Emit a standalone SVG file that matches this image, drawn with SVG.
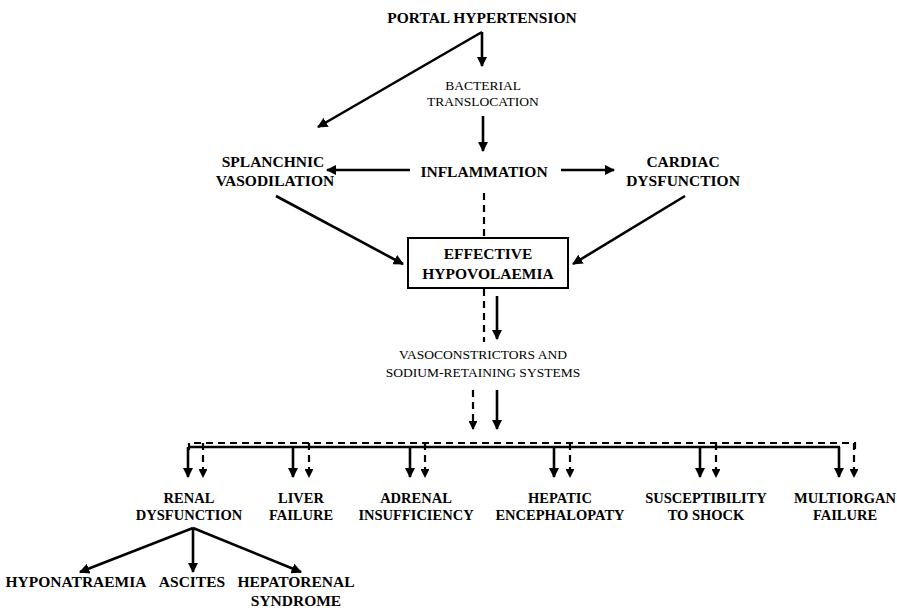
<svg xmlns="http://www.w3.org/2000/svg" width="897" height="611" viewBox="0 0 897 611">
<defs>
<marker id="ah" viewBox="0 0 10 10" refX="9" refY="5" markerWidth="4" markerHeight="4" markerUnits="strokeWidth" orient="auto">
<path d="M0,0 L10,5 L0,10 Z" fill="#000"/>
</marker>
<style>
.t{font-family:"Liberation Serif","DejaVu Serif",serif;fill:#000;text-anchor:middle}
.b{font-weight:bold;font-size:15.5px}
.m{font-weight:bold;font-size:14.5px}
.r{font-size:13.5px}
.s{stroke:#000;stroke-width:2.6;fill:none}
.d{stroke:#000;stroke-width:2.2;fill:none;stroke-dasharray:7,5}
.a{marker-end:url(#ah)}
</style>
</defs>
<rect width="897" height="611" fill="#fff"/>
<g id="connectors">
<path class="s a" d="M482,32 L482,66"/>
<path class="s a" d="M482,32 L318,127"/>
<path class="s a" d="M483,116 L483,151"/>
<path class="s a" d="M410,170 L327,170"/>
<path class="s a" d="M561,170 L614,170"/>
<path class="d" d="M484,193 L484,238"/>
<path class="s a" d="M276,196 L403,264"/>
<path class="s a" d="M685,196 L573,264"/>
<path class="d" d="M484,289 L484,342"/>
<path class="s a" d="M497,296 L497,339"/>
<path class="d a" d="M473,390 L473,429"/>
<path class="s a" d="M497,390 L497,429"/>
<path class="d" d="M189,450 L189,443 L855,443 L855,450"/>
<path class="s" d="M188,447 L840,447"/>
<path class="s a" d="M188,447 L188,477"/>
<path class="s a" d="M293,447 L293,477"/>
<path class="s a" d="M410,447 L410,477"/>
<path class="s a" d="M554,447 L554,477"/>
<path class="s a" d="M700,447 L700,477"/>
<path class="s a" d="M839,447 L839,477"/>
<path class="d a" d="M203,443 L203,477"/>
<path class="d a" d="M309,443 L309,477"/>
<path class="d a" d="M425,443 L425,477"/>
<path class="d a" d="M570,443 L570,477"/>
<path class="d a" d="M716,443 L716,477"/>
<path class="d a" d="M854,443 L854,477"/>
<path class="s a" d="M193,528 L80,572"/>
<path class="s a" d="M193,528 L193,572"/>
<path class="s a" d="M193,528 L301,572"/>
</g>
<g id="portal"><text class="t b" x="482" y="23">PORTAL HYPERTENSION</text></g>
<g id="bacterial"><text class="t r" x="483" y="90">BACTERIAL</text><text class="t r" x="483" y="106">TRANSLOCATION</text></g>
<g id="inflammation"><text class="t b" x="484" y="177">INFLAMMATION</text></g>
<g id="splanchnic"><text class="t b" x="273" y="167">SPLANCHNIC</text><text class="t b" x="275" y="186">VASODILATION</text></g>
<g id="cardiac"><text class="t b" x="683" y="167">CARDIAC</text><text class="t b" x="683" y="186">DYSFUNCTION</text></g>
<g id="hypovolaemia"><rect x="408" y="238" width="160" height="50" fill="#fff" stroke="#000" stroke-width="2"/><text class="t b" x="488" y="259">EFFECTIVE</text><text class="t b" x="488" y="279">HYPOVOLAEMIA</text></g>
<g id="vasoconstrictors"><text class="t r" x="483" y="359">VASOCONSTRICTORS AND</text><text class="t r" x="483" y="377">SODIUM-RETAINING SYSTEMS</text></g>
<g id="renal"><text class="t m" x="189" y="503">RENAL</text><text class="t m" x="189" y="520">DYSFUNCTION</text></g>
<g id="liver"><text class="t m" x="301" y="503">LIVER</text><text class="t m" x="301" y="520">FAILURE</text></g>
<g id="adrenal"><text class="t m" x="416" y="503">ADRENAL</text><text class="t m" x="416" y="520">INSUFFICIENCY</text></g>
<g id="hepatic"><text class="t m" x="560" y="503">HEPATIC</text><text class="t m" x="560" y="520">ENCEPHALOPATY</text></g>
<g id="shock"><text class="t m" x="706" y="503">SUSCEPTIBILITY</text><text class="t m" x="706" y="520">TO SHOCK</text></g>
<g id="multiorgan"><text class="t m" x="845" y="503">MULTIORGAN</text><text class="t m" x="845" y="520">FAILURE</text></g>
<g id="hyponatraemia"><text class="t b" x="76" y="587">HYPONATRAEMIA</text></g>
<g id="ascites"><text class="t b" x="192" y="587">ASCITES</text></g>
<g id="hepatorenal"><text class="t b" x="296" y="587">HEPATORENAL</text><text class="t b" x="296" y="606">SYNDROME</text></g>
</svg>
